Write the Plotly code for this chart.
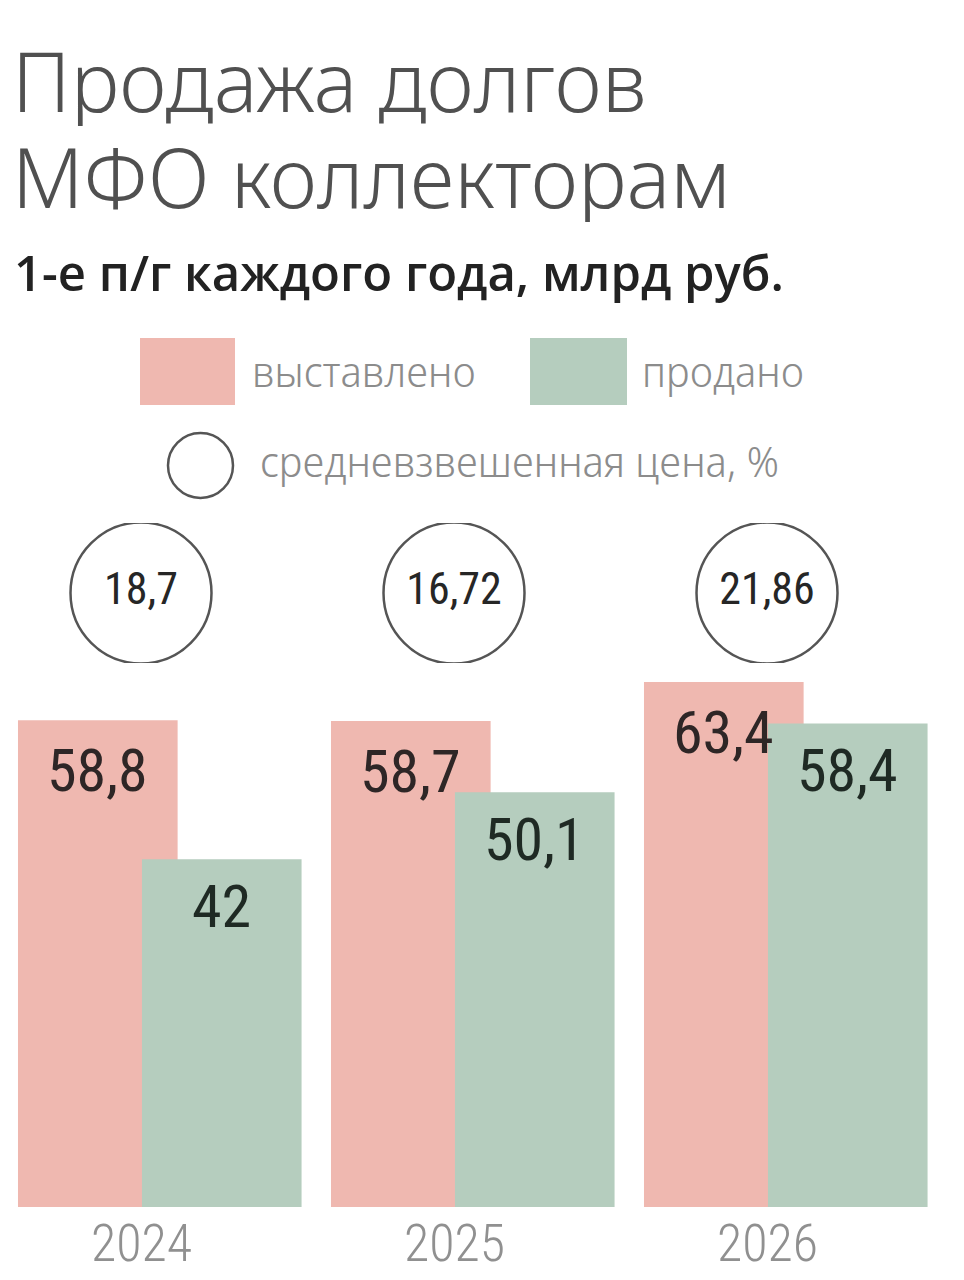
import plotly.graph_objects as go

W, H = 964, 1280
PAGE_OFF = 8  # page body margin shifts the figure by this much

years = ["2024", "2025", "2026"]
listed = [58.8, 58.7, 63.4]       # выставлено
sold = [42, 50.1, 58.4]           # продано
avg_price = [18.7, 16.72, 21.86]  # средневзвешенная цена, %

PINK = "#efb8b0"
GREEN = "#b5cdbe"
NARROW = "Roboto Condensed, DejaVu Sans Condensed, sans-serif"
LIGHT = "Noto Sans, Open Sans, sans-serif"
LEGEND = "Noto Sans Display, Noto Sans, sans-serif"


def fmt(v):
    return f"{v:g}".replace(".", ",")


def px_x(x):
    return (x - PAGE_OFF) / W


def px_y(y):
    return 1 - (y - PAGE_OFF) / H


# bar geometry in category units
BAR_W = 0.51
PINK_OFF = -0.393
GREEN_OFF = 0.003
PX_PER_UNIT = 8.28
CAT_PX = 313
CAT0_PX = 141 - PAGE_OFF

fig = go.Figure()
fig.add_trace(go.Bar(x=years, y=listed, width=BAR_W, offset=PINK_OFF,
                     marker=dict(color=PINK, line=dict(width=0)), name="выставлено"))
fig.add_trace(go.Bar(x=years, y=sold, width=BAR_W, offset=GREEN_OFF,
                     marker=dict(color=GREEN, line=dict(width=0)), name="продано"))

# weighted price circles
fig.add_trace(go.Scatter(
    x=years, y=[0.5] * len(years), yaxis="y2",
    mode="markers+text",
    marker=dict(symbol="circle", size=141, color="white", line=dict(color="#555555", width=2.5)),
    text=[fmt(v) for v in avg_price],
    textposition="middle center",
    textfont=dict(family=NARROW, size=44, color="#262626"),
    name="средневзвешенная цена, %",
))

annotations = []
for i, (a, b) in enumerate(zip(listed, sold)):
    annotations.append(dict(x=i + PINK_OFF + BAR_W / 2, y=a, xref="x", yref="y",
                            text=fmt(a), showarrow=False, yanchor="top", yshift=-13,
                            font=dict(family=NARROW, size=60, color="#2e2626")))
    annotations.append(dict(x=i + GREEN_OFF + BAR_W / 2, y=b, xref="x", yref="y",
                            text=fmt(b), showarrow=False, yanchor="top", yshift=-10,
                            font=dict(family=NARROW, size=60, color="#1f2a24")))
    annotations.append(dict(x=i, y=px_y(1243), xref="x", yref="paper",
                            text=years[i], showarrow=False, yanchor="middle",
                            font=dict(family=NARROW, size=52, color="#909090", weight=300)))

# title and subtitle
title_font = dict(family=LIGHT, size=82, color="#505050", weight=300)
annotations.append(dict(x=px_x(10), y=px_y(80), xref="paper", yref="paper", xanchor="left", yanchor="middle",
                        height=92, valign="middle",
                        showarrow=False, text="Продажа долгов", font=title_font))
annotations.append(dict(x=px_x(10), y=px_y(176), xref="paper", yref="paper", xanchor="left", yanchor="middle",
                        height=92, valign="middle",
                        showarrow=False, text="МФО коллекторам", font=title_font))
annotations.append(dict(x=px_x(12), y=px_y(272), xref="paper", yref="paper", xanchor="left", yanchor="middle",
                        showarrow=False, text="1-е п/г каждого года, млрд руб.",
                        font=dict(family="Open Sans, Noto Sans, sans-serif", size=49, color="#222222", weight=600)))

# custom legend
legend_font = dict(family=LEGEND, size=42, color="#8c8c8c", weight=300)
annotations.append(dict(x=px_x(250), y=px_y(370), xref="paper", yref="paper", xanchor="left", yanchor="middle",
                        showarrow=False, text="выставлено", font=legend_font))
annotations.append(dict(x=px_x(640), y=px_y(370), xref="paper", yref="paper", xanchor="left", yanchor="middle",
                        showarrow=False, text="продано", font=legend_font))
annotations.append(dict(x=px_x(258), y=px_y(460), xref="paper", yref="paper", xanchor="left", yanchor="middle",
                        showarrow=False, text="средневзвешенная цена, %", font=legend_font))

shapes = [
    dict(type="rect", xref="paper", yref="paper", x0=px_x(140), x1=px_x(235), y0=px_y(405), y1=px_y(338),
         fillcolor=PINK, line=dict(width=0)),
    dict(type="rect", xref="paper", yref="paper", x0=px_x(530), x1=px_x(627), y0=px_y(405), y1=px_y(338),
         fillcolor=GREEN, line=dict(width=0)),
    dict(type="circle", xref="paper", yref="paper", x0=px_x(168), x1=px_x(233), y0=px_y(498), y1=px_y(433),
         fillcolor="white", line=dict(color="#555555", width=2.5)),
]

fig.update_layout(
    width=W, height=H,
    margin=dict(l=0, r=0, t=0, b=0),
    paper_bgcolor="white", plot_bgcolor="white",
    barmode="overlay",
    showlegend=False,
    xaxis=dict(type="category", range=[-CAT0_PX / CAT_PX, (W - CAT0_PX) / CAT_PX],
               showticklabels=False, showgrid=False, zeroline=False, showline=False),
    yaxis=dict(domain=[px_y(1207), px_y(300)], range=[0, (1207 - 300) / PX_PER_UNIT],
               showticklabels=False, showgrid=False, zeroline=False, showline=False),
    yaxis2=dict(domain=[px_y(663), px_y(523)], range=[0, 1],
                showticklabels=False, showgrid=False, zeroline=False, showline=False),
    annotations=annotations,
    shapes=shapes,
)

fig.write_html("out.html")
